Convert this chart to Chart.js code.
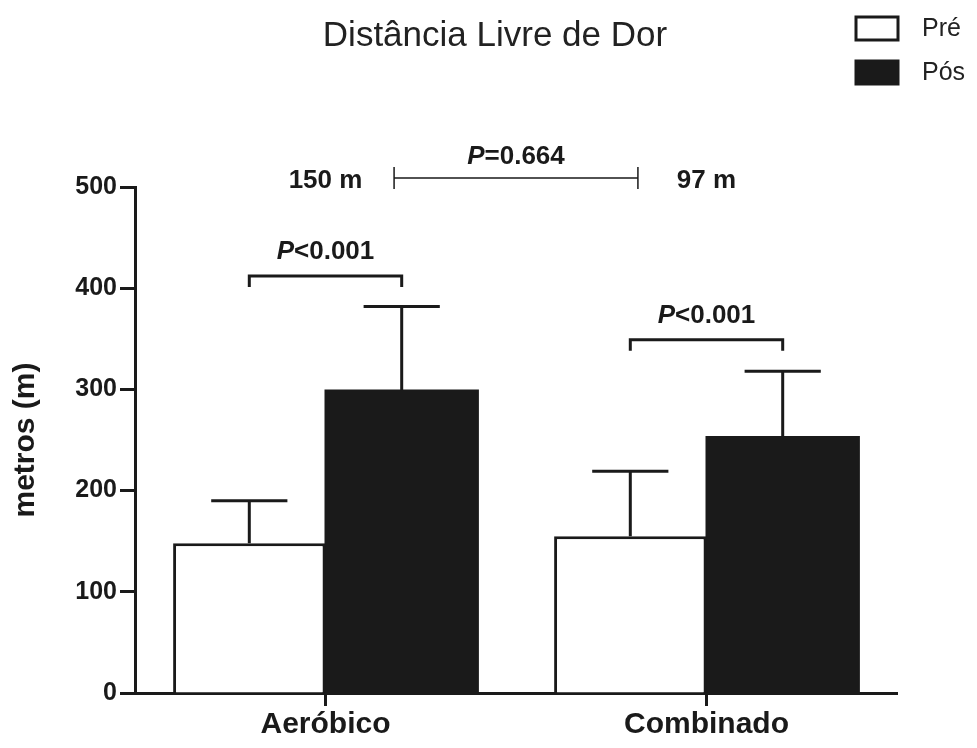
<!DOCTYPE html>
<html>
<head>
<meta charset="utf-8">
<script src="https://cdn.jsdelivr.net/npm/chart.js@4.4.0/dist/chart.umd.min.js"></script>
<style>
html, body { margin: 0; padding: 0; background: #fff; }
#wrap { width: 977px; height: 748px; }
</style>
</head>
<body>
<div id="wrap"><canvas id="chartDor" width="977" height="748"></canvas></div>
<script>
const categories = ['Aeróbico', 'Combinado'];
const seriesNames = ['Pré', 'Pós'];
const preMeans = [148, 155];
const preErrors = [42, 64];
const posMeans = [299, 253];
const posErrors = [83, 65];
const yTicks = [0, 100, 200, 300, 400, 500];
const pairLabels = ['P<0.001', 'P<0.001'];
const pairLevels = [412, 349];
const diffLabels = ['150 m', '97 m'];
const groupLabel = 'P=0.664';
const groupLevel = 509;

const ink = '#1a1a1a';
const FONT = "'Liberation Sans', Arial, Helvetica, sans-serif";

// italic P followed by bold rest, centred on cx
function pText(ctx, text, cx, y, size) {
  const head = text.charAt(0), tail = text.slice(1);
  ctx.font = 'italic bold ' + size + 'px ' + FONT;
  const w1 = ctx.measureText(head).width;
  ctx.font = 'bold ' + size + 'px ' + FONT;
  const w2 = ctx.measureText(tail).width;
  const x0 = cx - (w1 + w2) / 2;
  ctx.textAlign = 'left';
  ctx.font = 'italic bold ' + size + 'px ' + FONT;
  ctx.fillText(head, x0, y);
  ctx.font = 'bold ' + size + 'px ' + FONT;
  ctx.fillText(tail, x0 + w1, y);
}

const extras = {
  id: 'extras',
  afterDatasetsDraw(chart) {
    const {ctx, scales: {x, y}} = chart;
    ctx.save();
    ctx.strokeStyle = ink;
    ctx.fillStyle = ink;
    ctx.lineWidth = 3;

    // error bars (upper only)
    const errs = [preErrors, posErrors];
    chart.data.datasets.forEach((ds, di) => {
      chart.getDatasetMeta(di).data.forEach((bar, i) => {
        const top = y.getPixelForValue(ds.data[i] + errs[di][i]);
        const half = bar.width / 4;
        ctx.beginPath();
        ctx.moveTo(bar.x, bar.y);
        ctx.lineTo(bar.x, top);
        ctx.moveTo(bar.x - half, top);
        ctx.lineTo(bar.x + half, top);
        ctx.stroke();
      });
    });

    // Pré vs Pós brackets
    const m0 = chart.getDatasetMeta(0).data, m1 = chart.getDatasetMeta(1).data;
    ctx.textBaseline = 'alphabetic';
    categories.forEach((c, i) => {
      const by = y.getPixelForValue(pairLevels[i]);
      const xa = m0[i].x, xb = m1[i].x;
      ctx.beginPath();
      ctx.moveTo(xa, by + 11);
      ctx.lineTo(xa, by);
      ctx.lineTo(xb, by);
      ctx.lineTo(xb, by + 11);
      ctx.stroke();
      pText(ctx, pairLabels[i], (xa + xb) / 2, by - 17, 26);
    });

    // between-group comparison
    const gy = y.getPixelForValue(groupLevel);
    const gx0 = x.getPixelForValue(0.18), gx1 = x.getPixelForValue(0.82);
    ctx.lineWidth = 1.5;
    ctx.beginPath();
    ctx.moveTo(gx0, gy); ctx.lineTo(gx1, gy);
    ctx.moveTo(gx0, gy - 11); ctx.lineTo(gx0, gy + 11);
    ctx.moveTo(gx1, gy - 11); ctx.lineTo(gx1, gy + 11);
    ctx.stroke();
    pText(ctx, groupLabel, (gx0 + gx1) / 2, gy - 14, 26);
    ctx.font = 'bold 26px ' + FONT;
    ctx.textAlign = 'center';
    diffLabels.forEach((t, i) => {
      ctx.fillText(t, x.getPixelForValue(i), gy + 10);
    });
    ctx.restore();
  },
  afterDraw(chart) {
    const ctx = chart.ctx;
    ctx.save();
    // title
    ctx.fillStyle = '#222';
    ctx.font = '35px ' + FONT;
    ctx.textAlign = 'center';
    ctx.textBaseline = 'middle';
    ctx.fillText('Distância Livre de Dor', 495, 36);
    // legend
    ctx.textAlign = 'left';
    ctx.font = '25px ' + FONT;
    chart.data.datasets.forEach((ds, i) => {
      const ty = 17 + i * 44;
      ctx.fillStyle = ds.backgroundColor;
      ctx.fillRect(856, ty, 42, 23);
      ctx.strokeStyle = ink;
      ctx.lineWidth = 3;
      ctx.strokeRect(856, ty, 42, 23);
      ctx.fillStyle = '#222';
      ctx.fillText(ds.label, 922, ty + 12);
    });
    ctx.restore();
  }
};

new Chart(document.getElementById('chartDor').getContext('2d'), {
  type: 'bar',
  data: {
    labels: categories,
    datasets: [{
      label: seriesNames[0],
      data: preMeans,
      backgroundColor: '#ffffff',
      borderColor: ink,
      borderWidth: 3,
      borderSkipped: 'bottom'
    }, {
      label: seriesNames[1],
      data: posMeans,
      backgroundColor: ink,
      borderWidth: 0,
      inflateAmount: 1
    }]
  },
  options: {
    responsive: false,
    devicePixelRatio: 1,
    animation: false,
    categoryPercentage: 0.8,
    barPercentage: 1.0,
    layout: { padding: { top: 187, right: 80, left: 0, bottom: 0 } },
    plugins: {
      legend: { display: false },
      tooltip: { enabled: false }
    },
    scales: {
      x: {
        offset: true,
        z: 1,
        grid: { drawOnChartArea: false, drawTicks: true, tickLength: 13, tickWidth: 3, tickColor: ink, offset: false },
        border: { display: true, color: ink, width: 3 },
        ticks: { color: ink, padding: 1, font: { family: FONT, size: 30, weight: 'bold' } },
        afterFit(s) { s.height = 55; }
      },
      y: {
        min: 0,
        max: 500,
        z: 1,
        afterBuildTicks(s) { s.ticks = yTicks.map(v => ({ value: v })); },
        grid: { drawOnChartArea: false, tickLength: 15, tickWidth: 3, tickColor: ink },
        border: { display: true, color: ink, width: 3 },
        ticks: { color: ink, padding: 3, font: { family: FONT, size: 25, weight: 'bold' } },
        title: { display: true, text: 'metros (m)', color: ink, padding: { top: 8 }, font: { family: FONT, size: 30, weight: 'bold' } },
        afterFit(s) { s.width = 135; }
      }
    }
  },
  plugins: [extras]
});
</script>
</body>
</html>
